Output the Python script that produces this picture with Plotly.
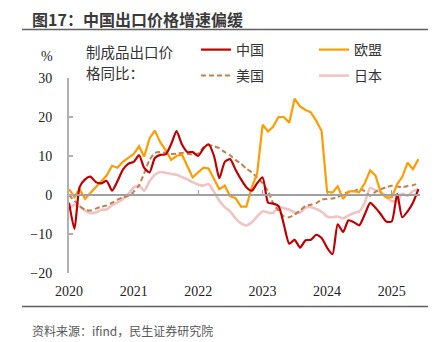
import pandas as pd
import plotly.graph_objects as go

months = pd.date_range("2020-01-01", periods=66, freq="MS")

china = [-2, -8.7, 2, 4, 4.7, 3.3, 3.0, 3.6, 1.1, 3.5, 6.5, 8, 8.5, 10.2, 7, 5.8,
         9.5, 10.3, 10.4, 13, 16.4, 13, 11, 11, 10, 12, 13, 10, 4.3, 8.5, 9.2, 6.5,
         4, 2, 1.1, 3, 4.5, -2, -2.2, -2.8, -7.5, -12.5, -11.5, -13.5, -11.6, -11.5, -10.2, -11,
         -13.5, -15.2, -7.5, -9.5, -6.5, -7, -7.8, -5, -2, -3.3, -5, -6.8, -6.8, 0.3,
         -5.7, -4.2, -2, 1.5]
eu = [1.5, -0.5, 1.5, -1, 0.5, 2, 3.5, 5, 7.5, 7, 8.5, 9.5, 10.5, 12.5, 9.8, 14.5,
      16.5, 13.5, 11.5, 9, 10, 10.4, 7.5, 4.5, 5.8, 7, 6.8, 4, 1.5, 2.4, -0.3, -0.8,
      -3, -3, 2, 5.5, 18, 16.3, 17.5, 20, 20, 18.5, 24.7, 22.7, 21.8, 21.2, 19, 16.4,
      0.8, 0.6, 2.2, -1, 0.9, 1, 0.7, 3, 6.3, 5, 0.5, -0.6, -0.6, 2.8,
      4.6, 8.3, 6.6, 9.2]
us = [0, -1.5, -2.8, -3.8, -4, -3.5, -3, -2.7, -2, -1.2, -0.6, -0.2, 0.8, 2.5, 5.5, 9,
      10.8, 11, 10.8, 10.5, 10.6, 10.8, 10.6, 10.4, 10.6, 12.2, 12.8, 12.5, 12, 11, 10.2, 9,
      8, 6.8, 5.8, 4.5, 3, 1, -2, -4, -5.5, -5.7, -5, -4, -2.8, -2.5, -2.1, -1.2,
      -1, -0.9, -0.6, 0.3, 0.7, 1, 1.5, 1, -0.2, 0.8, 1.5, 2, 2.4, 2.2,
      2, 2.3, 2.5, 3]
japan = [-3.5, -2.5, -3, -4, -4.6, -4.5, -3.8, -3.7, -2.6, -1.9, -1, 0.2, 1.9, 2.4, 1.1, 3.5,
         5.2, 5.9, 5.7, 5.4, 5.2, 4.6, 4, 3.3, 2.7, 2.4, 2.8, 0.8, -1.5, -3.1, -4.2, -6,
         -7.3, -7.8, -7, -5.5, -4.2, -4.5, -4.6, -3, -3.4, -3.8, -4.4, -4.5, -3.3, -3.1, -3.6, -4.3,
         -5.5, -5.7, -5.5, -6, -5.3, -4.6, -4.2, -2, 1.8, 1.2, 0.8, -0.5, -1.6, -1.5,
         0.3, -0.2, 1, 1.5]

year_ticks = pd.date_range("2020-01-01", periods=6, freq="YS")
year_labels = ["2020", "2021", "2022", "2023", "2024", "2025"]
y_ticks = [-20, -10, 0, 10, 20, 30]

W, H = 438, 342
ML, MR, MT, MB = 69, 18, 78, 69
PW, PH = W - ML - MR, H - MT - MB


def px(x):
    return (x - ML) / PW


def py(y):
    return (H - MB - y) / PH


cjk = "Noto Sans CJK SC"
serif = "Liberation Serif"

fig = go.Figure()
fig.add_trace(go.Scatter(x=months, y=japan, name="日本", mode="lines",
                         line=dict(color="#f0c4c4", width=2.6, shape="spline", smoothing=0.6),
                         legend="legend4"))
fig.add_trace(go.Scatter(x=months, y=us, name="美国", mode="lines",
                         line=dict(color="#c0804f", width=2, dash="5px,3px", shape="spline", smoothing=0.6),
                         legend="legend3"))
fig.add_trace(go.Scatter(x=months, y=eu, name="欧盟", mode="lines",
                         line=dict(color="#ff9c00", width=2.2),
                         legend="legend2"))
fig.add_trace(go.Scatter(x=months, y=china, name="中国", mode="lines",
                         line=dict(color="#c00000", width=2.2, shape="spline", smoothing=0.6),
                         legend="legend"))
# invisible trace on the zero-line axis
fig.add_trace(go.Scatter(x=months[:1], y=[0], xaxis="x2", mode="lines",
                         line=dict(width=0), showlegend=False, hoverinfo="skip"))


def leg(x, y):
    return dict(x=px(x), y=py(y), orientation="h", xanchor="left", yanchor="middle",
                font=dict(family=cjk, size=14, color="#333333"),
                bgcolor="rgba(0,0,0,0)", borderwidth=0)


fig.update_layout(
    width=W, height=H,
    margin=dict(l=ML, r=MR, t=MT, b=MB),
    paper_bgcolor="white", plot_bgcolor="white",
    showlegend=True,
    legend=leg(196, 50),
    legend2=leg(314, 50),
    legend3=leg(196, 76),
    legend4=leg(314, 76),
    xaxis=dict(type="date", range=["2020-01-01", "2025-06-10"],
               tickvals=year_ticks, ticktext=year_labels,
               showgrid=False, showline=False, zeroline=False, ticks="",
               ticklabelstandoff=8,
               tickfont=dict(family=serif, size=14, color="#222222")),
    xaxis2=dict(type="date", matches="x", overlaying="x", anchor="free",
                position=(0 - (-20)) / 50, side="bottom",
                tickvals=year_ticks, showticklabels=False,
                showgrid=False, zeroline=False,
                showline=True, linecolor="#a0a0a0", linewidth=1.5,
                ticks="inside", ticklen=4, tickcolor="#a0a0a0", tickwidth=1),
    yaxis=dict(range=[-20, 30], tickvals=y_ticks,
               showgrid=False, zeroline=False,
               showline=True, linecolor="#b0b0b0", linewidth=2,
               ticks="inside", ticklen=4, tickcolor="#b0b0b0", tickwidth=1.5,
               ticklabelstandoff=12,
               tickfont=dict(family=serif, size=14, color="#222222")),
)

fig.add_annotation(x=px(30), y=py(19.5), xref="paper", yref="paper",
                   text="<b>图17：中国出口价格增速偏缓</b>", showarrow=False,
                   xanchor="left", yanchor="middle",
                   font=dict(family=cjk, size=16, color="#3a3a3a"))
fig.add_annotation(x=px(30), y=py(330), xref="paper", yref="paper",
                   text="资料来源：ifind，民生证券研究院", showarrow=False,
                   xanchor="left", yanchor="middle",
                   font=dict(family=cjk, size=12, color="#595959"))
fig.add_annotation(x=px(84), y=py(51), xref="paper", yref="paper",
                   text="制成品出口价", showarrow=False, align="left",
                   xanchor="left", yanchor="middle",
                   font=dict(family=cjk, size=14.5, color="#333333"))
fig.add_annotation(x=px(84), y=py(72), xref="paper", yref="paper",
                   text="格同比：", showarrow=False, align="left",
                   xanchor="left", yanchor="middle",
                   font=dict(family=cjk, size=14.5, color="#333333"))
fig.add_annotation(x=px(47), y=py(57), xref="paper", yref="paper",
                   text="%", showarrow=False, xanchor="center", yanchor="middle",
                   font=dict(family=serif, size=14, color="#222222"))

for yy in (29.5, 306.5):
    fig.add_shape(type="line", xref="paper", yref="paper",
                  x0=px(22), x1=px(428), y0=py(yy), y1=py(yy),
                  line=dict(color="#606060", width=1.5))

fig.write_html("out.html")
